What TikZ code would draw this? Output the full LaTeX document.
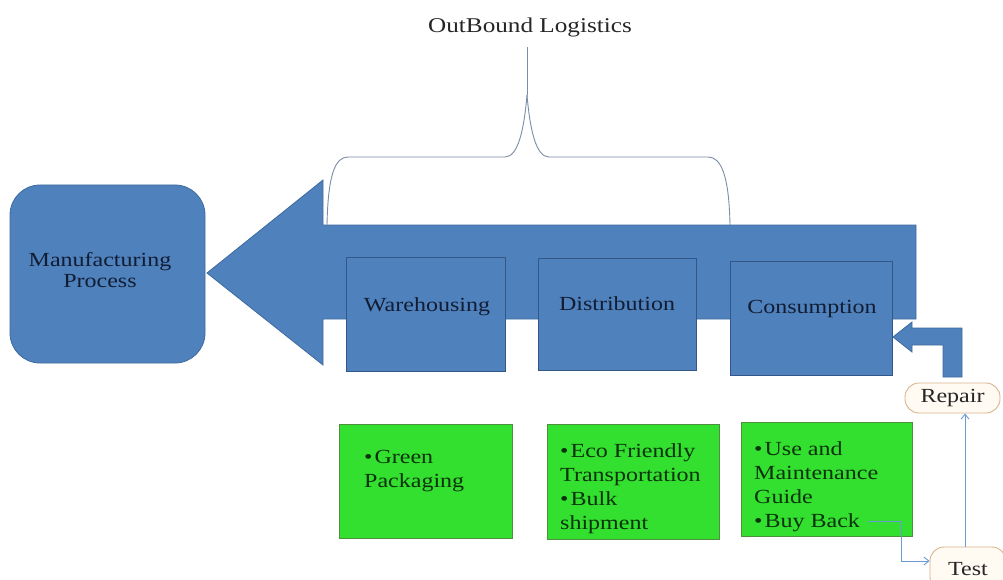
\documentclass[tikz,border=0pt]{standalone}
\usepackage{fontspec}
\setmainfont{Liberation Serif}[FakeStretch=1.2]
\usetikzlibrary{arrows.meta}

\definecolor{flowblue}{HTML}{4F81BD}
\definecolor{flowedge}{HTML}{3E6A9E}
\definecolor{boxedge}{HTML}{34578A}
\definecolor{navytext}{HTML}{121D33}
\definecolor{leafgreen}{HTML}{33DF2F}
\definecolor{leafedge}{HTML}{4E8F3E}
\definecolor{leafink}{HTML}{0A320A}
\definecolor{bracegray}{HTML}{7C8DA6}
\definecolor{linkblue}{HTML}{6A9AD0}
\definecolor{pillfill}{HTML}{FFFAF2}
\definecolor{pilledge}{HTML}{D8B58E}

\tikzset{
  basefont/.style={font=\fontsize{20}{24}\selectfont},
  mfgbox/.style={draw=flowedge, fill=flowblue, line width=0.8pt, rounded corners=30pt, inner sep=0pt},
  stagebox/.style={draw=boxedge, fill=flowblue, line width=0.9pt, inner sep=0pt},
  bluetext/.style={basefont, text=navytext, inner sep=0pt},
  leafbox/.style={draw=leafedge, fill=leafgreen, line width=1pt, inner sep=0pt},
  leaftext/.style={basefont, text=leafink, align=left, inner sep=0pt},
  pill/.style={draw=pilledge, fill=pillfill, line width=0.9pt, rounded corners=14pt, inner sep=0pt, basefont, text=black!85},
  link/.style={draw=linkblue, line width=0.9pt, -{Straight Barb[length=5pt,width=8pt]}},
  brace/.style={draw=bracegray, line width=0.9pt}
}

\begin{document}
\begin{tikzpicture}[x=1pt, y=-1pt]
\clip (0,0) rectangle (1003,580);
\fill[white] (0,0) rectangle (1003,580);

% title and curly brace over the outbound stages
\node[font=\fontsize{21}{24}\selectfont, text=black!85, inner sep=0pt] (title) at (530,27) {OutBound Logistics};
\coordinate (peak) at (527,95);
\draw[brace] (527,47) -- (peak);
\draw[brace] (peak) .. controls (524,130) and (518,157) .. (505,157)
  -- (348,157) .. controls (335,157) and (328,175) .. (327,225);
\draw[brace] (peak) .. controls (530,130) and (536,157) .. (549,157)
  -- (708,157) .. controls (721,157) and (729,175) .. (730,225);

% manufacturing block
\node[mfgbox, minimum width=195pt, minimum height=178pt] (mfg) at (107.5,274) {};
\node[bluetext, align=center, font=\fontsize{20}{21}\selectfont] (mfgtext) at (100,270) {Manufacturing\\Process};

% large block arrow pointing back to manufacturing
\filldraw[fill=flowblue, draw=flowedge, line width=0.8pt]
  (207,273) -- (323,180) -- (323,225) -- (916,225) -- (916,319)
  -- (323,319) -- (323,365) -- cycle;

% stage boxes on the arrow
\node[stagebox, minimum width=159pt, minimum height=114pt] (wh) at (425.5,314) {};
\node[stagebox, minimum width=158pt, minimum height=112pt] (dist) at (617,314) {};
\node[stagebox, minimum width=162pt, minimum height=114pt] (cons) at (811,318) {};
\node[bluetext] (whtext) at (427,307) {Warehousing};
\node[bluetext] (disttext) at (617,304) {Distribution};
\node[bluetext] (constext) at (812,309) {Consumption};

% bent return arrow into consumption
\filldraw[fill=flowblue, draw=flowedge, line width=0.8pt]
  (943,377) -- (962,377) -- (962,328) -- (912,328) -- (912,322)
  -- (893,337) -- (912,352) -- (912,345) -- (943,345) -- cycle;

% green practice boxes
\node[leafbox, minimum width=173pt, minimum height=114pt] (gp) at (425.5,481) {};
\node[leafbox, minimum width=172pt, minimum height=115pt] (eco) at (633,481.5) {};
\node[leafbox, minimum width=171pt, minimum height=114pt] (use) at (826.5,479.5) {};
\node[leaftext, anchor=north west] (gptext) at (364,450) {\textbullet\hspace{2pt}Green\\Packaging};
\node[leaftext, anchor=north west] (ecotext) at (560,443) {\textbullet\hspace{2pt}Eco Friendly\\Transportation\\\textbullet\hspace{2pt}Bulk\\shipment};
\node[leaftext, anchor=north west] (usetext) at (754,441) {\textbullet\hspace{2pt}Use and\\Maintenance\\Guide\\\textbullet\hspace{2pt}Buy Back};

% repair / test loop
\node[pill, minimum width=95pt, minimum height=30pt] (repair) at (952.5,398) {Repair};
\node[pill, minimum width=76pt, minimum height=44pt] (test) at (968,569) {Test};
\coordinate (buyback) at (868,521);
\draw[link] (buyback) -- ++(33,0) |- ([yshift=8pt]test.west);
\draw[link] ([xshift=-3pt]test.north) -- ([xshift=-3pt]test.north |- repair.south);
\end{tikzpicture}
\end{document}
